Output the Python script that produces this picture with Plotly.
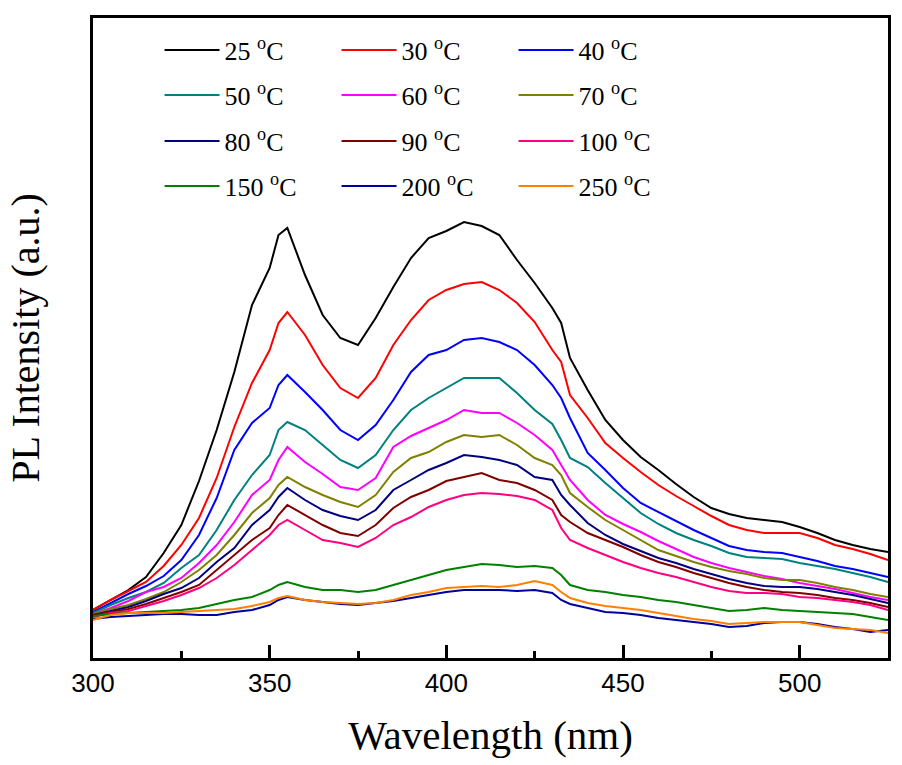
import plotly.graph_objects as go

wavelength = [300, 305, 310, 315, 320, 325, 330, 335, 340, 345, 350, 352.5, 355,
              360, 365, 370, 375, 380, 385, 390, 395, 400, 405, 410, 415, 420, 425,
              430, 432.5, 435, 440, 445, 450, 455, 460, 465, 470, 475, 480, 485,
              490, 495, 500, 505, 510, 515, 520, 525]

labels = ["25 <sup>o</sup>C", "30 <sup>o</sup>C", "40 <sup>o</sup>C",
          "50 <sup>o</sup>C", "60 <sup>o</sup>C", "70 <sup>o</sup>C",
          "80 <sup>o</sup>C", "90 <sup>o</sup>C", "100 <sup>o</sup>C",
          "150 <sup>o</sup>C", "200 <sup>o</sup>C", "250 <sup>o</sup>C"]

colors = ["#000000", "#FF0000", "#0000FF", "#008080", "#FF00FF", "#808000",
          "#000080", "#800000", "#FF0080", "#008000", "#0000A0", "#FF8000"]

pl_25 = [48, 58, 68, 81, 105, 133, 177, 228, 286, 353, 390, 423, 430,
         383, 343, 320, 313, 340, 371, 400, 420, 427, 436, 432, 423, 398, 375,
         350, 335, 300, 268, 238, 218, 201, 188, 174, 161, 150, 144, 140,
         138, 136, 131, 125, 118, 113, 109, 106]
pl_30 = [48, 58, 67, 76, 92, 113, 140, 180, 231, 275, 308, 335, 346,
         323, 293, 270, 260, 280, 313, 338, 358, 368, 374, 376, 368, 355, 336,
         308, 296, 263, 240, 215, 200, 186, 173, 162, 152, 142, 133, 128,
         125, 125, 125, 120, 113, 109, 104, 98]
pl_40 = [46, 55, 64, 72, 82, 98, 123, 160, 208, 235, 250, 273, 283,
         266, 248, 228, 218, 233, 258, 286, 303, 308, 318, 320, 316, 308, 293,
         273, 260, 240, 205, 188, 170, 155, 146, 137, 128, 120, 112, 108,
         106, 105, 101, 97, 92, 89, 85, 81]
pl_50 = [45, 53, 60, 66, 75, 90, 103, 128, 158, 183, 203, 228, 236,
         228, 213, 198, 190, 203, 228, 248, 260, 270, 280, 280, 280, 265, 248,
         234, 218, 200, 191, 175, 160, 145, 134, 125, 118, 112, 105, 101,
         100, 99, 95, 92, 89, 85, 81, 76]
pl_60 = [44, 50, 57, 66, 71, 80, 95, 113, 136, 163, 178, 198, 211,
         196, 184, 171, 168, 180, 211, 222, 230, 238, 248, 245, 245, 235, 223,
         208, 193, 178, 158, 143, 134, 126, 117, 109, 101, 95, 90, 86,
         82, 79, 75, 72, 69, 65, 61, 58]
pl_70 = [44, 49, 53, 59, 66, 76, 88, 103, 123, 145, 160, 173, 181,
         171, 163, 156, 151, 163, 186, 200, 206, 216, 223, 221, 223, 213, 200,
         193, 183, 165, 151, 138, 128, 118, 108, 102, 96, 91, 87, 84,
         80, 78, 78, 75, 71, 68, 64, 61]
pl_80 = [43, 47, 51, 57, 64, 70, 80, 96, 110, 133, 148, 161, 170,
         158, 148, 142, 138, 148, 168, 178, 188, 195, 203, 201, 198, 193, 181,
         178, 163, 153, 135, 123, 114, 107, 100, 95, 89, 84, 79, 75,
         72, 71, 71, 69, 66, 63, 59, 55]
pl_90 = [43, 46, 49, 54, 60, 66, 73, 88, 103, 118, 130, 143, 153,
         143, 133, 125, 122, 133, 150, 161, 168, 177, 181, 185, 178, 175, 168,
         158, 143, 136, 125, 118, 111, 103, 96, 91, 85, 80, 75, 71,
         68, 66, 65, 63, 60, 58, 55, 51]
pl_100 = [41, 45, 47, 52, 57, 63, 70, 80, 93, 108, 123, 133, 138,
          128, 118, 115, 111, 120, 133, 141, 151, 158, 163, 165, 164, 162, 158,
          148, 130, 118, 110, 103, 96, 90, 85, 81, 76, 71, 67, 65,
          65, 64, 61, 60, 58, 56, 53, 48]
pl_150 = [42, 44, 45, 46, 47, 48, 50, 54, 58, 61, 68, 73, 76,
          71, 68, 68, 66, 68, 73, 78, 83, 88, 91, 94, 93, 91, 92,
          90, 83, 73, 68, 66, 63, 61, 58, 56, 53, 50, 47, 48,
          50, 48, 47, 46, 45, 44, 41, 38]
pl_200 = [39, 41, 42, 43, 44, 44, 43, 43, 46, 48, 53, 58, 61,
          58, 56, 54, 53, 55, 57, 60, 63, 66, 68, 68, 68, 67, 68,
          65, 58, 54, 50, 46, 45, 43, 40, 38, 36, 34, 31, 32,
          35, 36, 36, 34, 31, 29, 26, 28]
pl_250 = [38, 43, 45, 45, 45, 46, 47, 48, 49, 52, 56, 60, 62,
          58, 56, 55, 54, 55, 58, 63, 66, 70, 71, 72, 71, 73, 77,
          73, 66, 60, 55, 52, 50, 48, 45, 42, 39, 37, 34, 35,
          36, 36, 36, 33, 30, 29, 28, 25]

series = [pl_25, pl_30, pl_40, pl_50, pl_60, pl_70, pl_80, pl_90, pl_100,
          pl_150, pl_200, pl_250]

legend_ids = ["legend", "legend2", "legend3", "legend4"]

fig = go.Figure()
for i, (name, col, vals) in enumerate(zip(labels, colors, series)):
    fig.add_trace(go.Scatter(x=wavelength, y=vals, mode="lines", name=name,
                             line=dict(color=col, width=2),
                             legend=legend_ids[i // 3]))

serif = "Liberation Serif, Times New Roman, serif"
sans = "Liberation Sans, Arial, sans-serif"

row_y = [0.95, 0.8797, 0.8078, 0.7375]


def leg(y):
    return dict(orientation="h", x=0.0837, y=y, xanchor="left", yanchor="middle",
                entrywidth=107, entrywidthmode="pixels", itemwidth=55,
                font=dict(family=serif, size=26, color="black"),
                bgcolor="rgba(0,0,0,0)", traceorder="normal")


fig.update_layout(
    width=902, height=765,
    margin=dict(l=93, r=14, t=18, b=107),
    paper_bgcolor="white", plot_bgcolor="white",
    showlegend=True,
    legend=leg(row_y[0]), legend2=leg(row_y[1]),
    legend3=leg(row_y[2]), legend4=leg(row_y[3]),
    xaxis=dict(range=[300, 525], tickvals=[300, 350, 400, 450, 500],
               ticks="inside", ticklen=13, tickwidth=3, tickcolor="black",
               minor=dict(tickvals=[325, 375, 425, 475, 525], ticks="inside",
                          ticklen=7, tickwidth=3, tickcolor="black"),
               showline=True, linewidth=3, linecolor="black", mirror=True,
               showgrid=False, zeroline=False,
               tickfont=dict(family=sans, size=26, color="black"),
               title=dict(text="Wavelength (nm)", font=dict(family=serif, size=41, color="black"),
                          standoff=24)),
    yaxis=dict(range=[0, 640], showticklabels=False, ticks="",
               showline=True, linewidth=3, linecolor="black", mirror=True,
               showgrid=False, zeroline=False,
               title=dict(text="PL Intensity (a.u.)", font=dict(family=serif, size=40, color="black"),
                          standoff=39)),
)

fig.write_html("out.html")
